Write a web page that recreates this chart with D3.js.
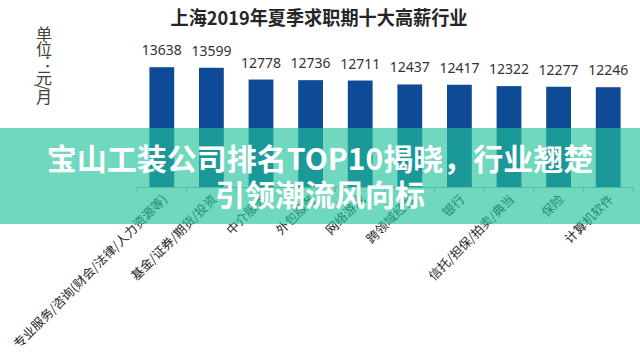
<!DOCTYPE html>
<html lang="zh">
<head>
<meta charset="UTF-8">
<title>上海2019年夏季求职期十大高薪行业</title>
<script src="https://cdn.jsdelivr.net/npm/d3@7"></script>
<style>
    body { margin: 0; background: #fff; }
    svg { display: block; font-family: "Noto Sans CJK SC", "Noto Sans", sans-serif; }
</style>
</head>
<body>
<script>
    const categories = [
        "专业服务/咨询(财会/法律/人力资源等)",
        "基金/证券/期货/投资",
        "中介服务",
        "外包服务",
        "网络游戏",
        "跨领域经营",
        "银行",
        "信托/担保/拍卖/典当",
        "保险",
        "计算机软件"
    ];
    const salaries = [13638, 13599, 12778, 12736, 12711, 12437, 12417, 12322, 12277, 12246];
    const chartTitle = "上海2019年夏季求职期十大高薪行业";
    const unitLabel = "单位：元/月";
    const bannerLines = ["宝山工装公司排名TOP10揭晓，行业翘楚", "引领潮流风向标"];

    const width = 640, height = 355;
    const baseY = 187;

    const svg = d3.select("body").append("svg")
        .attr("width", width)
        .attr("height", height);

    const x = d3.scaleBand()
        .domain(categories)
        .range([137, 633])
        .paddingInner(0.5)
        .paddingOuter(0.25);

    // axis doesn't start at zero in the original
    const y = d3.scaleLinear()
        .domain([5300, 14000])
        .range([baseY, 62]);

    // title
    svg.append("text")
        .attr("x", 319).attr("y", 25)
        .attr("text-anchor", "middle")
        .attr("font-size", 19)
        .attr("font-weight", "bold")
        .attr("fill", "#262626")
        .attr("textLength", 297)
        .attr("lengthAdjust", "spacingAndGlyphs")
        .text(chartTitle);

    // unit label, vertical
    svg.append("text")
        .attr("x", 44).attr("y", 26)
        .attr("writing-mode", "vertical-rl")
        .attr("font-size", 16)
        .attr("letter-spacing", -1.5)
        .attr("fill", "#404040")
        .text(unitLabel);

    // bars
    svg.selectAll("rect.bar")
        .data(salaries)
        .join("rect").attr("class", "bar")
        .attr("x", (d, i) => x(categories[i]))
        .attr("width", x.bandwidth())
        .attr("y", d => y(d))
        .attr("height", d => baseY - y(d))
        .attr("fill", "#0f4a96");

    // value labels
    svg.selectAll("text.val")
        .data(salaries)
        .join("text").attr("class", "val")
        .attr("x", (d, i) => x(categories[i]) + x.bandwidth() / 2)
        .attr("y", d => y(d) - 12)
        .attr("text-anchor", "middle")
        .attr("font-family", "'Noto Sans', sans-serif")
        .attr("font-size", 14)
        .attr("fill", "#333")
        .text(d => d);

    // x axis line with ticks between categories
    const gap = (x.step() - x.bandwidth()) / 2;
    const bounds = categories.map(c => x(c) - gap).concat([x(categories[categories.length - 1]) + x.bandwidth() + gap]);
    svg.append("line")
        .attr("x1", bounds[0]).attr("x2", bounds[bounds.length - 1])
        .attr("y1", baseY + 0.5).attr("y2", baseY + 0.5)
        .attr("stroke", "#b0b0b0");
    svg.selectAll("line.tick")
        .data(bounds)
        .join("line").attr("class", "tick")
        .attr("x1", d => d).attr("x2", d => d)
        .attr("y1", baseY).attr("y2", baseY + 5)
        .attr("stroke", "#b0b0b0");

    // category labels, rotated
    svg.selectAll("text.cat")
        .data(categories)
        .join("text").attr("class", "cat")
        .attr("text-anchor", "end")
        .attr("font-size", 12.5)
        .attr("fill", "#262626")
        .attr("transform", d => `translate(${x(d) + x.bandwidth() / 2 + 3},${baseY + 10}) rotate(-45)`)
        .attr("dy", "0.35em")
        .text(d => d);

    // overlay banner
    svg.append("rect")
        .attr("x", 0).attr("y", 128)
        .attr("width", width).attr("height", 96)
        .attr("fill", "rgb(34,195,155)")
        .attr("fill-opacity", 0.65);

    svg.selectAll("text.banner")
        .data(bannerLines)
        .join("text").attr("class", "banner")
        .attr("x", 320)
        .attr("y", (d, i) => 170 + i * 36)
        .attr("text-anchor", "middle")
        .attr("font-size", 30)
        .attr("font-weight", "bold")
        .attr("fill", "#fff")
        .text(d => d);
</script>
</body>
</html>
